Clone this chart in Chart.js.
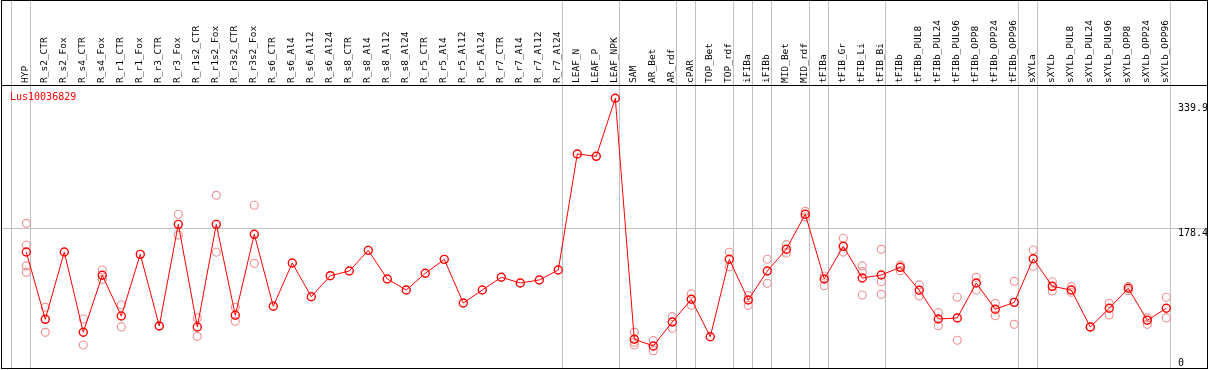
<!DOCTYPE html>
<html>
<head>
<meta charset="utf-8">
<script src="https://cdn.jsdelivr.net/npm/chart.js@4.4.0/dist/chart.umd.min.js"></script>
<style>
  html, body { margin: 0; padding: 0; background: #fff; overflow: hidden; }
  #wrap { width: 1209px; height: 370px; position: relative; }
</style>
</head>
<body>
<div id="wrap"><canvas id="exprChart"></canvas></div>
<script>
// Expression profile for one gene across tissues / treatments

const geneName = "Lus10036829";

const categories = [
  "HYP", "R_s2_CTR", "R_s2_Fox", "R_s4_CTR", "R_s4_Fox", "R_r1_CTR", "R_r1_Fox",
  "R_r3_CTR", "R_r3_Fox", "R_r1s2_CTR", "R_r1s2_Fox", "R_r3s2_CTR", "R_r3s2_Fox",
  "R_s6_CTR", "R_s6_Al4", "R_s6_Al12", "R_s6_Al24", "R_s8_CTR", "R_s8_Al4",
  "R_s8_Al12", "R_s8_Al24", "R_r5_CTR", "R_r5_Al4", "R_r5_Al12", "R_r5_Al24",
  "R_r7_CTR", "R_r7_Al4", "R_r7_Al12", "R_r7_Al24", "LEAF_N", "LEAF_P", "LEAF_NPK",
  "SAM", "AR_Bet", "AR_rdf", "cPAR", "TOP_Bet", "TOP_rdf", "iFIBa", "iFIBb",
  "MID_Bet", "MID_rdf", "tFIBa", "tFIB_Gr", "tFIB_Li", "tFIB_Bi", "tFIBb",
  "tFIBb_PUL8", "tFIBb_PUL24", "tFIBb_PUL96", "tFIBb_OPP8", "tFIBb_OPP24", "tFIBb_OPP96",
  "sXYLa", "sXYLb", "sXYLb_PUL8", "sXYLb_PUL24", "sXYLb_PUL96", "sXYLb_OPP8",
  "sXYLb_OPP24", "sXYLb_OPP96"
];

// mean expression per sample (red line)
const meanValues = [
  148.9, 65.3, 148.9, 49.2, 120, 69.4, 146, 57, 183.3, 55.8, 183.3, 70.3, 170.9,
  81.5, 135.3, 93.4, 119.5, 125.3, 151, 115.4, 101.7, 122.5, 139.8, 85.6, 101.7,
  117.5, 110.4, 114.2, 126.6, 270.7, 267.8, 339.9,
  40.5, 32.2, 62, 90.2, 43.7, 139.9, 89.3, 125.3, 152.3, 195.8, 115.4, 156, 116.6,
  120.4, 129.9, 101.4, 65.7, 67, 110.4, 77.8, 86.4, 140.6, 106.3, 101.7, 55.8, 79,
  103.9, 64.1, 79
];

// individual replicates (pale circles)
const replicateValues = [
  [184.6, 157.6, 131.6, 123.7], [80.2, 49.2], [], [65.7, 33.4], [126.6, 115],
  [83.1, 55.8], [], [57], [195.8, 170], [67, 44.2], [219.4, 148.6], [80.2, 62.8],
  [207, 134.9], [], [], [], [], [], [], [], [], [], [], [], [], [], [], [], [],
  [], [], [],
  [49.2, 36.8, 33.4], [38.8, 26.3], [68.6, 54.2], [96.8, 82.7], [], [148.6, 130.7],
  [94.7, 82.7], [139.9, 110.1], [158, 147.7], [199.5, 192.4], [119.1, 107.1],
  [166, 148.9], [131.6, 124.5, 95.5], [152.3, 112, 96.4], [132.8, 125.7],
  [108, 94.3], [73.5, 57.4], [92.7, 39.3], [117.5, 101.7], [85.2, 69.8],
  [112.5, 59.1], [151.4, 131.2], [112, 100.5], [105.8, 98.9], [55.8],
  [85.2, 70.7], [105.8, 100.9], [67, 59.1], [92.7, 67]
];

// sample index after which a group separator is drawn
const groupEnds = [-1, 0, 28, 31, 34, 35, 37, 38, 39, 41, 42, 45, 52, 53, 60];

// right hand value labels, and the one horizontal grid line
const yTickLabels = [339.9, 178.4, 0];
const yGridValues = [178.4];

const monoFont = "'DejaVu Sans Mono', 'Liberation Mono', monospace";

const meanPoints = meanValues.map((v, i) => ({ x: i, y: v }));
const replicatePoints = [];
replicateValues.forEach((reps, i) => {
  reps.forEach(v => replicatePoints.push({ x: i, y: v }));
});

function noPadding(scale) {
  scale.paddingLeft = 0;
  scale.paddingRight = 0;
  scale.paddingTop = 0;
  scale.paddingBottom = 0;
}

// ----------------------------------------------------
// extra drawing: separators, frame, gene name, value labels
// ----------------------------------------------------
const decorPlugin = {
  id: "decor",
  beforeDraw(chart) {
    const ctx = chart.ctx;
    const xs = chart.scales.x;
    ctx.save();
    ctx.strokeStyle = "#c0c0c0";
    ctx.lineWidth = 1;
    groupEnds.forEach(k => {
      const px = Math.round(xs.getPixelForValue(k + 0.21)) + 0.5;
      ctx.beginPath();
      ctx.moveTo(px, 0);
      ctx.lineTo(px, chart.chartArea.bottom);
      ctx.stroke();
    });
    ctx.restore();
  },
  afterDraw(chart) {
    const ctx = chart.ctx;
    const area = chart.chartArea;
    const ys = chart.scales.y;
    ctx.save();
    // outer frame
    ctx.strokeStyle = "#000";
    ctx.lineWidth = 1;
    ctx.strokeRect(1.5, 0.5, area.right - 1.5, area.bottom - 0.5);

    // gene name
    ctx.fillStyle = "#ff0000";
    ctx.font = "10px " + monoFont;
    ctx.textAlign = "left";
    ctx.textBaseline = "middle";
    ctx.fillText(geneName, 10, area.top + 12);

    // value labels at the right
    ctx.fillStyle = "#000";
    ctx.textBaseline = "top";
    yTickLabels.forEach(v => {
      let py = ys.getPixelForValue(v);
      py = Math.min(Math.max(py, area.top + 18), area.bottom - 10);
      ctx.fillText(String(v), 1178, py);
    });
    ctx.restore();
  }
};

const ctx = document.getElementById("exprChart").getContext("2d");

new Chart(ctx, {
  data: {
    datasets: [
      {
        type: "line",
        label: "mean",
        data: meanPoints,
        borderColor: "#ff0000",
        borderWidth: 1,
        tension: 0,
        fill: false,
        pointStyle: "circle",
        pointRadius: 4,
        pointBorderWidth: 1.4,
        pointBorderColor: "#ff0000",
        pointBackgroundColor: "rgba(0,0,0,0)",
        order: 0
      },
      {
        type: "scatter",
        label: "replicates",
        data: replicatePoints,
        pointStyle: "circle",
        pointRadius: 4,
        pointBorderWidth: 1.2,
        pointBorderColor: "rgb(240,150,150)",
        pointBackgroundColor: "rgba(0,0,0,0)",
        order: 1
      }
    ]
  },
  options: {
    responsive: true,
    maintainAspectRatio: false,
    animation: false,
    events: [],
    layout: {
      autoPadding: false,
      padding: { left: 1.5, right: 1.5, top: 0, bottom: 1.5 }
    },
    plugins: {
      legend: { display: false },
      tooltip: { enabled: false }
    },
    scales: {
      x: {
        type: "linear",
        position: "top",
        min: -1.305,
        max: 62.17,
        afterBuildTicks: scale => {
          scale.ticks = categories.map((_, i) => ({ value: i }));
        },
        afterFit: scale => {
          scale.height = 85;
          noPadding(scale);
        },
        ticks: {
          autoSkip: false,
          minRotation: 90,
          maxRotation: 90,
          padding: 2,
          labelOffset: 11,
          color: "#000",
          font: { family: monoFont, size: 9.5 },
          callback: value => categories[value]
        },
        grid: { display: false, drawTicks: false },
        border: { display: true, color: "#000", width: 1 }
      },
      y: {
        type: "linear",
        position: "right",
        min: 4.2,
        max: 356.4,
        afterBuildTicks: scale => {
          scale.ticks = yGridValues.map(v => ({ value: v }));
        },
        afterFit: scale => {
          scale.width = 0;
          noPadding(scale);
        },
        ticks: { display: false },
        grid: { color: "#c0c0c0", lineWidth: 1, drawTicks: false },
        border: { display: false }
      }
    }
  },
  plugins: [decorPlugin]
});
</script>
</body>
</html>
